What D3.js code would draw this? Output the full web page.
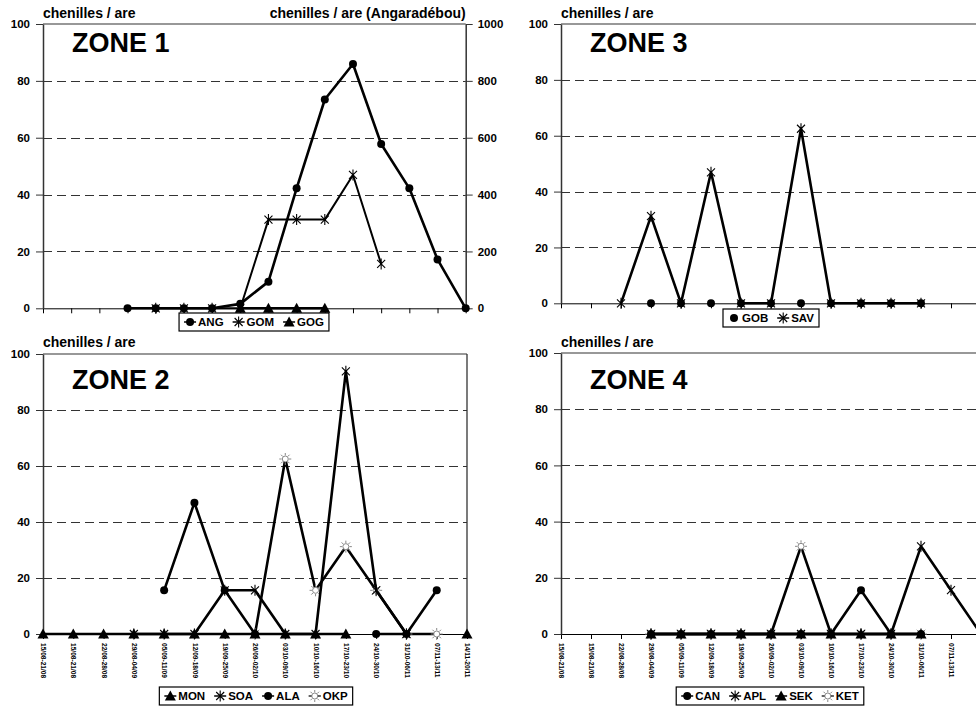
<!DOCTYPE html>
<html><head><meta charset="utf-8">
<script src="https://cdn.jsdelivr.net/npm/d3@7"></script>
<style>
body{margin:0;background:#fff;}
svg{display:block;font-family:"Liberation Sans",Arial,sans-serif;}
</style></head><body>
<svg id="c" width="976" height="706"></svg>
<script>
// ---------- DATA ----------
const weeks = ["15/08-21/08","15/08-21/08","22/08-28/08","29/08-04/09","05/09-11/09","12/09-18/09","19/09-25/09","26/09-02/10","03/10-09/10","10/10-16/10","17/10-23/10","24/10-30/10","31/10-06/11","07/11-13/11","14/11-20/11"];
const zone1Slots = ["S01","S02","S03","S04","S05","S06","S07","S08","S09","S10","S11","S12","S13","S14","S15","S16"];
const yTicks = [0,20,40,60,80,100];
const yTicksRight = [0,200,400,600,800,1000];
const gridTicks = [20,40,60,80];

// Zone 1 (ANG on right axis: chenilles / are (Angaradébou))
const ANG = [null,null,null,0,0,0,0,15.6,93.8,421.9,734.4,859.4,578.1,421.9,171.9,0];
const GOM = [null,null,null,null,0,0,0,0,31.2,31.2,31.2,46.9,15.6,null,null,null];
const GOG = [null,null,null,null,null,null,null,0,0,0,0,null,null,null,null,null];
// Zone 3
const GOB = [null,null,null,0,0,0,0,0,0,0,0,0,0,null,null];
const SAV = [null,null,0,31.2,0,46.9,0,0,62.5,0,0,0,0,null,null];
// Zone 2
const MON = [0,0,0,0,0,0,0,0,0,0,0,null,null,null,0];
const SOA = [null,null,null,0,0,0,15.6,15.6,0,0,93.8,15.6,0,null,null];
const ALA = [null,null,null,null,15.6,46.9,15.6,0,null,null,null,0,0,15.6,null];
const OKP = [null,null,null,null,null,null,null,0,62.5,15.6,31.2,15.6,0,0,null];
// Zone 4
const CAN = [null,null,null,0,0,0,0,0,0,0,15.6,0,0,null,null];
const APL = [null,null,null,0,0,0,0,0,0,0,0,0,31.2,15.6,0];
const SEK = [null,null,null,0,0,0,0,0,0,0,0,0,0,null,null];
const KET = [null,null,null,0,0,0,0,0,31.2,0,0,0,0,null,null];

// ---------- CONFIG ----------
const panels = [
  {title:"ZONE 1", cats:zone1Slots, labels:null, x0:43, x1:465.7, y0:308.3, y100:24, gridEnd:465.7,
   rightAxis:true, rightTitle:"chenilles / are (Angaradébou)", titleY:51.5, axTitleY:18,
   legend:{cx:254, y:313}, drawOrder:[0,1,2],
   series:[{name:"ANG",data:ANG,marker:"circle",right:true,line:true},
           {name:"GOM",data:GOM,marker:"star",line:true,width:2},
           {name:"GOG",data:GOG,marker:"triangle",line:true}]},
  {title:"ZONE 3", cats:weeks, labels:null, x0:561, x1:981, y0:303.3, y100:24, gridEnd:981,
   titleY:51.5, axTitleY:18, legend:{cx:771, y:309}, drawOrder:[0,1],
   series:[{name:"GOB",data:GOB,marker:"circle",line:false},
           {name:"SAV",data:SAV,marker:"star",line:true}]},
  {title:"ZONE 2", cats:weeks, labels:weeks, x0:43, x1:467, y0:634, y100:354, gridEnd:467, rightBorder:true,
   titleY:388.5, axTitleY:347, legend:{cx:256, y:687}, drawOrder:[3,0,2,1],
   series:[{name:"MON",data:MON,marker:"triangle",line:true},
           {name:"SOA",data:SOA,marker:"star",line:true},
           {name:"ALA",data:ALA,marker:"circle",line:true},
           {name:"OKP",data:OKP,marker:"sun",line:true}]},
  {title:"ZONE 4", cats:weeks, labels:weeks, x0:561, x1:981, y0:634, y100:353, gridEnd:981,
   titleY:388.5, axTitleY:347, legend:{cx:770, y:687}, drawOrder:[3,0,1,2],
   series:[{name:"CAN",data:CAN,marker:"circle",line:true},
           {name:"APL",data:APL,marker:"star",line:true},
           {name:"SEK",data:SEK,marker:"triangle",line:true},
           {name:"KET",data:KET,marker:"sun",line:true}]}
];

const svg = d3.select("#c");
const W = 976;

function drawMarker(g, type, x, y) {
  const m = g.append("g").attr("transform", `translate(${x},${y})`);
  if (type === "circle") {
    m.append("circle").attr("r", 4).attr("fill", "#000");
  } else if (type === "triangle") {
    m.append("path").attr("d", "M0,-5.5L5.5,4.5L-5.5,4.5Z").attr("fill", "#000");
  } else if (type === "star") {
    m.append("path").attr("d", "M-4,-4L4,4M-4,4L4,-4M0,-5.5L0,5.5")
      .attr("stroke", "#000").attr("stroke-width", 1.1).attr("fill", "none");
  } else if (type === "sun") {
    let d = "";
    for (let k = 0; k < 8; k++) {
      const a = k * Math.PI / 4;
      d += `M${3.6*Math.cos(a)},${3.6*Math.sin(a)}L${6*Math.cos(a)},${6*Math.sin(a)}`;
    }
    m.append("path").attr("d", d).attr("stroke", "#888").attr("stroke-width", 1);
    m.append("circle").attr("r", 3).attr("fill", "#fff").attr("stroke", "#888").attr("stroke-width", 1);
  }
}

panels.forEach(p => {
  const g = svg.append("g");
  const idx = d3.range(p.cats.length);
  const x = d3.scalePoint().domain(idx).range([p.x0, p.x1]).padding(0);
  const y = d3.scaleLinear().domain([0, 100]).range([p.y0, p.y100]);
  const yR = d3.scaleLinear().domain([0, 1000]).range([p.y0, p.y100]);

  // gridlines
  g.selectAll("line.grid").data(gridTicks).join("line")
    .attr("x1", p.x0).attr("x2", p.gridEnd)
    .attr("y1", d => Math.round(y(d)) + 0.5).attr("y2", d => Math.round(y(d)) + 0.5)
    .attr("stroke", "#333").attr("stroke-width", 1).attr("stroke-dasharray", "9,5");
  // top border
  g.append("line").attr("x1", p.x0).attr("x2", p.gridEnd).attr("y1", y(100)).attr("y2", y(100))
    .attr("stroke", "#333").attr("stroke-width", 1.2);
  if (p.rightBorder) {
    g.append("line").attr("x1", p.x1).attr("x2", p.x1).attr("y1", y(100)).attr("y2", y(0))
      .attr("stroke", "#333").attr("stroke-width", 1.3);
  }

  // x axis
  const xa = g.append("g").attr("transform", `translate(0,${p.y0})`)
    .call(d3.axisBottom(x).tickSize(5).tickSizeOuter(0)
      .tickFormat(i => p.labels ? p.labels[i] : ""));
  xa.select(".domain").attr("stroke", "#000").attr("stroke-width", 1);
  xa.selectAll(".tick line").attr("stroke", "#000");
  xa.selectAll(".tick text")
    .attr("transform", "rotate(90)")
    .attr("x", 9).attr("y", 0).attr("dy", "0.35em")
    .attr("text-anchor", "start")
    .attr("font-size", 6.6).attr("font-weight", "bold").attr("fill", "#000");
  // labels lying beyond the picture's right edge are not shown in the reference
  xa.selectAll(".tick").filter(i => x(i) > W - 3).select("text").remove();

  // left axis
  const ya = g.append("g").attr("transform", `translate(${p.x0},0)`)
    .call(d3.axisLeft(y).tickValues(yTicks).tickSize(7).tickSizeOuter(0).tickPadding(6));
  ya.select(".domain").attr("stroke", "#333").attr("stroke-width", 1.5);
  ya.selectAll(".tick line").attr("stroke", "#333");
  ya.selectAll(".tick text").attr("font-size", 11.5).attr("font-weight", "bold").attr("fill", "#000");

  if (p.rightAxis) {
    const yr = g.append("g").attr("transform", `translate(${p.x1},0)`)
      .call(d3.axisRight(yR).tickValues(yTicksRight).tickFormat(d3.format("d"))
        .tickSize(7).tickSizeOuter(0).tickPadding(5));
    yr.select(".domain").attr("stroke", "#333").attr("stroke-width", 1.5);
    yr.selectAll(".tick line").attr("stroke", "#333");
    yr.selectAll(".tick text").attr("font-size", 11.5).attr("font-weight", "bold").attr("fill", "#000");
    g.append("text").attr("x", p.x1).attr("y", p.axTitleY).attr("text-anchor", "end")
      .attr("font-size", 14).attr("font-weight", "bold").text(p.rightTitle);
  }

  // axis title & zone title
  g.append("text").attr("x", p.x0).attr("y", p.axTitleY)
    .attr("font-size", 14).attr("font-weight", "bold").text("chenilles / are");
  g.append("text").attr("x", p.x0 + 29).attr("y", p.titleY)
    .attr("font-size", 27).attr("font-weight", "bold").text(p.title);

  // series (in drawing order)
  p.drawOrder.forEach(k => {
    const s = p.series[k];
    const sy = s.right ? yR : y;
    const pts = s.data.map((v, i) => ({i, v}));
    if (s.line) {
      const line = d3.line().defined(d => d.v != null).x(d => x(d.i)).y(d => sy(d.v));
      g.append("path").datum(pts).attr("d", line).attr("fill", "none")
        .attr("stroke", "#000").attr("stroke-width", s.width || 2.6).attr("stroke-linejoin", "round");
    }
    pts.filter(d => d.v != null).forEach(d => drawMarker(g, s.marker, x(d.i), sy(d.v)));
  });

  // legend
  const lg = svg.append("g");
  const items = [];
  let cur = 5;
  p.series.forEach(s => {
    const it = lg.append("g");
    const t = it.append("text").attr("x", 8).attr("y", 13).attr("font-size", 11.5)
      .attr("font-weight", "bold").text(s.name);
    const w = t.node().getComputedTextLength();
    if (s.line) it.append("line").attr("x1", -6).attr("x2", 6).attr("y1", 9).attr("y2", 9)
      .attr("stroke", "#000").attr("stroke-width", 1.5);
    drawMarker(it, s.marker, 0, 9);
    items.push({it, x: cur + 6});
    cur += 6 + 8 + w + 9;
  });
  const totalW = cur - 9 + 5;
  const lx = p.legend.cx - totalW / 2;
  lg.attr("transform", `translate(${lx},${p.legend.y})`);
  lg.insert("rect", ":first-child").attr("x", 0).attr("y", 0).attr("width", totalW).attr("height", 18)
    .attr("fill", "#fff").attr("stroke", "#000").attr("stroke-width", 1.2);
  items.forEach(o => o.it.attr("transform", `translate(${o.x},0)`));
});
</script>
</body></html>
